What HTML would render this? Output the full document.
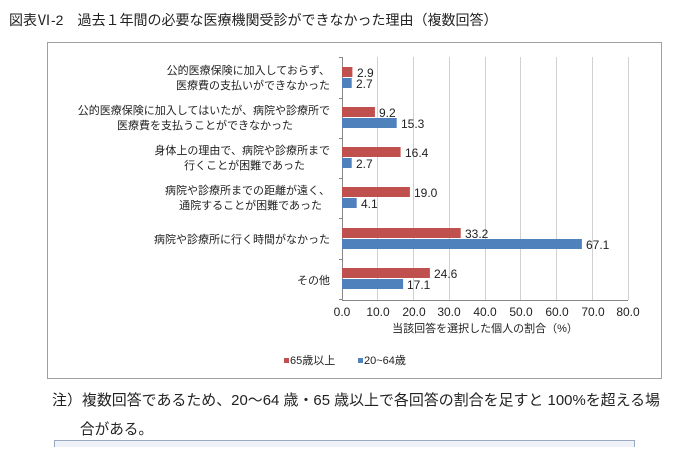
<!DOCTYPE html>
<html><head><meta charset="utf-8"><style>
body{margin:0;width:679px;height:447px;background:#fff;overflow:hidden;font-family:"Liberation Sans","Noto Sans CJK JP",sans-serif;}
</style></head><body>
<svg width="679" height="447" xmlns="http://www.w3.org/2000/svg" font-family="Liberation Sans, Noto Sans CJK JP, sans-serif">
<text x="9" y="25" font-size="14" fill="#222">図表Ⅵ-2　過去１年間の必要な医療機関受診ができなかった理由（複数回答）</text>
<rect x="47.5" y="42.5" width="614" height="336" fill="#fff" stroke="#a0a0a0"/>
<g stroke="#d0d0d0" stroke-width="1">
<line x1="377.5" y1="57" x2="377.5" y2="300"/><line x1="413.5" y1="57" x2="413.5" y2="300"/>
<line x1="449.5" y1="57" x2="449.5" y2="300"/><line x1="485.5" y1="57" x2="485.5" y2="300"/>
<line x1="520.5" y1="57" x2="520.5" y2="300"/><line x1="556.5" y1="57" x2="556.5" y2="300"/>
<line x1="592.5" y1="57" x2="592.5" y2="300"/><line x1="628.5" y1="57" x2="628.5" y2="300"/>
</g>
<g stroke="#888"><line x1="342.5" y1="57" x2="342.5" y2="300"/><line x1="342" y1="300.5" x2="628" y2="300.5"/>
<line x1="339" y1="57.5" x2="342" y2="57.5"/><line x1="339" y1="98.5" x2="342" y2="98.5"/><line x1="339" y1="138.5" x2="342" y2="138.5"/><line x1="339" y1="178.5" x2="342" y2="178.5"/><line x1="339" y1="218.5" x2="342" y2="218.5"/><line x1="339" y1="259.5" x2="342" y2="259.5"/><line x1="339" y1="299.5" x2="342" y2="299.5"/>
</g>
<g fill="#c0504d">
<rect x="342" y="67" width="10.4" height="10"/>
<rect x="342" y="107" width="32.9" height="10"/>
<rect x="342" y="147" width="58.6" height="10"/>
<rect x="342" y="187" width="67.9" height="10"/>
<rect x="342" y="228" width="118.7" height="10"/>
<rect x="342" y="268" width="87.9" height="10"/>
</g>
<g fill="#4f81bd">
<rect x="342" y="78" width="9.7" height="10"/>
<rect x="342" y="118" width="54.7" height="10"/>
<rect x="342" y="158" width="9.7" height="10"/>
<rect x="342" y="198" width="14.7" height="10"/>
<rect x="342" y="239" width="239.9" height="10"/>
<rect x="342" y="279" width="61.1" height="10"/>
</g>
<g font-size="12" fill="#222">
<text x="357" y="77">2.9</text><text x="356" y="88">2.7</text>
<text x="379" y="117">9.2</text><text x="401" y="128">15.3</text>
<text x="405" y="157">16.4</text><text x="356" y="168">2.7</text>
<text x="414" y="197">19.0</text><text x="361" y="208">4.1</text>
<text x="465" y="238">33.2</text><text x="586" y="249">67.1</text>
<text x="434" y="278">24.6</text><text x="407" y="289">17.1</text>
</g>
<g font-size="11" fill="#222" text-anchor="end">
<text x="330" y="74">公的医療保険に加入しておらず、</text>
<text x="330" y="89">医療費の支払いができなかった</text>
<text x="330" y="114">公的医療保険に加入してはいたが、病院や診療所で</text>
<text x="293" y="129">医療費を支払うことができなかった</text>
<text x="330" y="154">身体上の理由で、病院や診療所まで</text>
<text x="305" y="169">行くことが困難であった</text>
<text x="330" y="194">病院や診療所までの距離が遠く、</text>
<text x="322" y="209">通院することが困難であった</text>
<text x="330" y="243">病院や診療所に行く時間がなかった</text>
<text x="330" y="284">その他</text>
</g>
<g font-size="12" fill="#222" text-anchor="middle">
<text x="342" y="316">0.0</text><text x="378" y="316">10.0</text><text x="414" y="316">20.0</text><text x="449" y="316">30.0</text><text x="485" y="316">40.0</text><text x="521" y="316">50.0</text><text x="557" y="316">60.0</text><text x="593" y="316">70.0</text><text x="628" y="316">80.0</text>
</g>
<text x="485" y="332" font-size="11" fill="#222" text-anchor="middle">当該回答を選択した個人の割合（%）</text>
<rect x="284" y="358" width="5" height="5" fill="#c0504d"/>
<text x="290" y="364" font-size="11" fill="#222">65歳以上</text>
<rect x="358" y="358" width="5" height="5" fill="#4f81bd"/>
<text x="364" y="364" font-size="11" fill="#222">20~64歳</text>
<text x="52" y="405" font-size="14.6" fill="#222" textLength="608" lengthAdjust="spacingAndGlyphs">注）複数回答であるため、20～64 歳・65 歳以上で各回答の割合を足すと 100%を超える場</text>
<text x="80" y="434" font-size="14.6" fill="#222">合がある。</text>
<rect x="54.5" y="440.5" width="580" height="10" fill="#eef2f8" stroke="#9aa8c0"/>
</svg>
</body></html>
